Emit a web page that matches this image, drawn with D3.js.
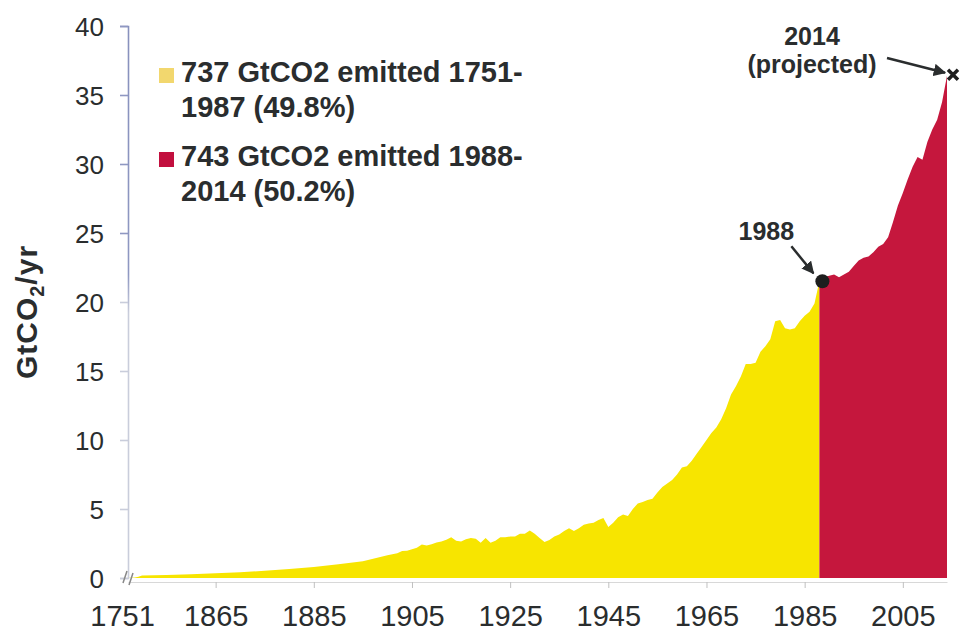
<!DOCTYPE html>
<html>
<head>
<meta charset="utf-8">
<script src="https://cdn.jsdelivr.net/npm/d3@7"></script>
<style>
  html, body { margin: 0; padding: 0; background: #fff; }
  svg { display: block; }
  text { font-family: "Liberation Sans", Arial, sans-serif; fill: #2a2d2e; }
</style>
</head>
<body>
<svg id="chart" width="962" height="637"></svg>
<script>
// ---- data ----
const years = [1751, 1775, 1800, 1825, 1850, 1855, 1860, 1865, 1870, 1875, 1880, 1885, 1890, 1895, 1900,
  1901, 1902, 1903, 1904, 1905, 1906, 1907, 1908, 1909, 1910,
  1911, 1912, 1913, 1914, 1915, 1916, 1917, 1918, 1919, 1920,
  1921, 1922, 1923, 1924, 1925, 1926, 1927, 1928, 1929, 1930,
  1931, 1932, 1933, 1934, 1935, 1936, 1937, 1938, 1939, 1940,
  1941, 1942, 1943, 1944, 1945, 1946, 1947, 1948, 1949, 1950,
  1951, 1952, 1953, 1954, 1955, 1956, 1957, 1958, 1959, 1960,
  1961, 1962, 1963, 1964, 1965, 1966, 1967, 1968, 1969, 1970,
  1971, 1972, 1973, 1974, 1975, 1976, 1977, 1978, 1979, 1980,
  1981, 1982, 1983, 1984, 1985, 1986, 1987, 1988, 1989, 1990,
  1991, 1992, 1993, 1994, 1995, 1996, 1997, 1998, 1999, 2000,
  2001, 2002, 2003, 2004, 2005, 2006, 2007, 2008, 2009, 2010,
  2011, 2012, 2013, 2014];
const emissions = [0.01, 0.02, 0.04, 0.09, 0.18, 0.22, 0.28, 0.35, 0.42, 0.52, 0.66, 0.80, 1.00, 1.22, 1.65,
  1.72, 1.80, 1.95, 1.98, 2.08, 2.20, 2.42, 2.35, 2.45, 2.58,
  2.65, 2.78, 2.95, 2.70, 2.65, 2.80, 2.90, 2.85, 2.55, 2.90,
  2.55, 2.70, 2.95, 2.95, 3.00, 3.00, 3.20, 3.20, 3.45, 3.20,
  2.90, 2.60, 2.75, 3.00, 3.15, 3.40, 3.60, 3.40, 3.60, 3.85,
  3.95, 4.00, 4.20, 4.35, 3.70, 4.00, 4.40, 4.60, 4.50, 5.00,
  5.40, 5.50, 5.65, 5.75, 6.20, 6.60, 6.85, 7.10, 7.50, 8.00,
  8.10, 8.50, 9.00, 9.50, 10.0, 10.5, 10.9, 11.5, 12.3, 13.3,
  13.9, 14.6, 15.5, 15.5, 15.6, 16.4, 16.8, 17.3, 18.6, 18.7,
  18.1, 18.0, 18.1, 18.6, 19.0, 19.3, 19.9, 21.5, 21.8, 21.9,
  22.0, 21.8, 22.0, 22.2, 22.6, 23.0, 23.2, 23.3, 23.6, 24.0,
  24.2, 24.7, 25.8, 27.0, 27.9, 28.9, 29.8, 30.5, 30.3, 31.6,
  32.5, 33.2, 34.5, 36.4];
const splitYear = 1988;
const xTickYears = [1751, 1865, 1885, 1905, 1925, 1945, 1965, 1985, 2005];
const yTickValues = [0, 5, 10, 15, 20, 25, 30, 35, 40];
const legendLines = [
  ["737 GtCO2 emitted 1751-", "1987 (49.8%)"],
  ["743 GtCO2 emitted 1988-", "2014 (50.2%)"]
];
const periodColors = ["#f7e500", "#c5173d"];
const legendColors = ["#f2d76e", "#c20f3e"];

// ---- chart ----
const svg = d3.select("#chart");
const defs = svg.append("defs");
const points = years.map((yr, i) => ({ year: yr, value: emissions[i] }));

const x = d3.scaleLinear().domain([1751, 1850, 2014]).range([128, 142, 947]);
const y = d3.scaleLinear().domain([0, 40]).range([578, 26]);

const area = d3.area().x(d => x(d.year)).y0(y(0)).y1(d => y(d.value));

svg.append("path")
  .datum(points.filter(d => d.year <= splitYear))
  .attr("d", area)
  .attr("fill", periodColors[0]);

svg.append("path")
  .datum(points.filter(d => d.year >= splitYear))
  .attr("d", area)
  .attr("fill", periodColors[1]);

// y axis gradient (bluish top, pale lower part)
const grad = defs.append("linearGradient")
  .attr("id", "yaxisgrad").attr("gradientUnits", "userSpaceOnUse")
  .attr("x1", 0).attr("y1", y(40)).attr("x2", 0).attr("y2", y(0));
grad.append("stop").attr("offset", "0%").attr("stop-color", "#8891bd");
grad.append("stop").attr("offset", "45%").attr("stop-color", "#8f98c2");
grad.append("stop").attr("offset", "52%").attr("stop-color", "#c9cddb");
grad.append("stop").attr("offset", "100%").attr("stop-color", "#c9cddb");

const yAxis = svg.append("g")
  .attr("transform", "translate(128,0)")
  .call(d3.axisLeft(y).tickValues(yTickValues).tickSize(8).tickPadding(16).tickSizeOuter(8));
yAxis.select(".domain").attr("stroke", "url(#yaxisgrad)").attr("stroke-width", 1.6);
yAxis.selectAll(".tick line").attr("stroke", d => d >= 25 ? "#8f98c2" : "#c9cddb").attr("stroke-width", 1.6);
yAxis.selectAll(".tick text")
  .attr("font-size", 26).attr("fill", "#2a2d2e").attr("dy", "0.36em")
  .style("font-family", "'Liberation Sans', Arial, sans-serif");

// x axis
const xAxis = svg.append("g")
  .attr("transform", "translate(0,582)")
  .call(d3.axisBottom(x).tickValues(xTickYears).tickFormat(d3.format("d")).tickSize(6).tickPadding(17).tickSizeOuter(0));
xAxis.select(".domain").attr("stroke", "#d8d8d8").attr("stroke-width", 1);
xAxis.selectAll(".tick line").attr("stroke", "#c0c0c0");
xAxis.selectAll(".tick line").filter(d => d === 1751).remove();
xAxis.selectAll(".tick text")
  .attr("font-size", 29).attr("fill", "#2a2d2e")
  .style("font-family", "'Liberation Sans', Arial, sans-serif")
  .attr("dx", d => d === 1751 ? -6 : 0);

// axis break glyph
const bx = x(1751), by = y(0);
svg.append("path")
  .attr("d", `M${bx - 5},${by + 5} L${bx - 1},${by - 7} M${bx + 1},${by + 7} L${bx + 5},${by - 5}`)
  .attr("stroke", "#888").attr("stroke-width", 1.5).attr("fill", "none");

// y axis title
const yTitle = svg.append("text")
  .attr("transform", "translate(37,312) rotate(-90)")
  .attr("text-anchor", "middle")
  .attr("font-size", 30).attr("font-weight", "bold")
  .attr("letter-spacing", 1);
yTitle.append("tspan").text("GtCO");
yTitle.append("tspan").attr("font-size", 20).attr("dy", 7).text("2");
yTitle.append("tspan").attr("dy", -7).text("/yr");

// legend
const legendTop = [68, 152];
const lineOffsets = [14, 49];
legendLines.forEach((lines, i) => {
  svg.append("rect")
    .attr("x", 159).attr("y", legendTop[i]).attr("width", 15).attr("height", 15)
    .attr("fill", legendColors[i]);
  lines.forEach((t, j) => {
    svg.append("text")
      .attr("x", 181).attr("y", legendTop[i] + lineOffsets[j])
      .attr("font-size", 29).attr("font-weight", "bold")
      .text(t);
  });
});

// arrow marker
defs.append("marker")
  .attr("id", "arrow").attr("viewBox", "0 0 10 10")
  .attr("refX", 9).attr("refY", 5)
  .attr("markerWidth", 5).attr("markerHeight", 5)
  .attr("orient", "auto")
  .append("path").attr("d", "M0,0 L10,5 L0,10 Z").attr("fill", "#2a2d2e");

// 1988 annotation
const p88 = points.find(d => d.year === splitYear);
const px88 = x(p88.year) + 3, py88 = y(p88.value);
svg.append("circle").attr("cx", px88).attr("cy", py88).attr("r", 7).attr("fill", "#1e1e1e");
svg.append("text").attr("x", px88 - 56).attr("y", py88 - 41)
  .attr("text-anchor", "middle").attr("font-size", 25).attr("font-weight", "bold").text("1988");
svg.append("line")
  .attr("x1", px88 - 31).attr("y1", py88 - 35).attr("x2", px88 - 9).attr("y2", py88 - 8)
  .attr("stroke", "#2a2d2e").attr("stroke-width", 2.5).attr("marker-end", "url(#arrow)");

// 2014 annotation
const p14 = points[points.length - 1];
const px14 = x(p14.year) + 6, py14 = y(p14.value) - 1;
svg.append("path")
  .attr("d", `M${px14 - 5},${py14 - 5} L${px14 + 5},${py14 + 5} M${px14 + 5},${py14 - 5} L${px14 - 5},${py14 + 5}`)
  .attr("stroke", "#1e1e1e").attr("stroke-width", 3.5);
svg.append("text").attr("x", 812).attr("y", 45)
  .attr("text-anchor", "middle").attr("font-size", 25).attr("font-weight", "bold").text("2014");
svg.append("text").attr("x", 812).attr("y", 73)
  .attr("text-anchor", "middle").attr("font-size", 25).attr("font-weight", "bold").text("(projected)");
svg.append("line")
  .attr("x1", 887).attr("y1", 58).attr("x2", px14 - 8).attr("y2", py14 - 2)
  .attr("stroke", "#2a2d2e").attr("stroke-width", 2.5).attr("marker-end", "url(#arrow)");
</script>
</body>
</html>
